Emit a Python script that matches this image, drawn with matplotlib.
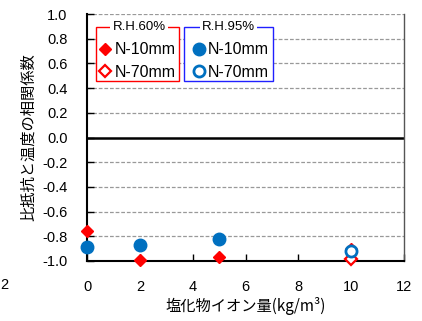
import matplotlib.pyplot as plt
from matplotlib.patches import Rectangle

plt.rcParams['font.family'] = ['Liberation Sans', 'Noto Sans CJK JP', 'DejaVu Sans']

# chloride content (kg/m3) and correlation coefficients
rh60_10_x = [0, 2, 5, 10]
rh60_10_y = [-0.76, -0.99, -0.97, -0.90]
rh60_70_x = [10]
rh60_70_y = [-0.98]
rh95_10_x = [0, 2, 5]
rh95_10_y = [-0.89, -0.87, -0.82]
rh95_70_x = [10]
rh95_70_y = [-0.92]

xticks = [0, 2, 4, 6, 8, 10, 12]
yticks = [-1.0, -0.8, -0.6, -0.4, -0.2, 0.0, 0.2, 0.4, 0.6, 0.8, 1.0]

red = '#FF0000'
blue = '#0070C0'
cjk = ['Noto Sans CJK JP', 'DejaVu Sans']

fig = plt.figure(figsize=(4.22, 3.21), dpi=100)
ax = fig.add_axes([87 / 422, 1 - 261 / 321, 317 / 422, 247 / 321])

for y in yticks:
    if y == 0.0:
        ax.axhline(0, color='black', lw=1.8, zorder=1)
    else:
        ax.axhline(y, color='#999999', lw=0.9, ls=(0, (3, 1.5)), zorder=1)

p1, = ax.plot(rh60_10_x, rh60_10_y, 'D', color=red, ms=6.5, ls='none', zorder=5, clip_on=False)
p2, = ax.plot(rh60_70_x, rh60_70_y, 'D', mfc='white', mec=red, mew=1.6, ms=6, ls='none', zorder=5, clip_on=False)
p3, = ax.plot(rh95_10_x, rh95_10_y, 'o', color=blue, ms=9, ls='none', zorder=6, clip_on=False)
p4, = ax.plot(rh95_70_x, rh95_70_y, 'o', mfc='white', mec=blue, mew=2, ms=8, ls='none', zorder=6, clip_on=False)

ax.set_xlim(0, 12)
ax.set_ylim(-1.0, 1.0)
ax.set_xticks(xticks)
ax.set_yticks(yticks)
ax.set_yticklabels([f'{v:.1f}' for v in yticks])
ax.tick_params(axis='x', direction='in', length=5, width=1, pad=14, labelsize=10.5)
ax.tick_params(axis='y', direction='in', length=5, width=1, pad=14, labelsize=10.5)

ax.spines['top'].set_visible(False)
ax.spines['left'].set_linewidth(1.5)
ax.spines['bottom'].set_linewidth(1.5)
ax.spines['right'].set_color('#555555')
ax.spines['right'].set_linewidth(1)

ax.set_xlabel('塩化物イオン量(kg/m³)', fontsize=11, family=cjk, labelpad=2)
ax.set_ylabel('比抵抗と温度の相関係数', fontsize=11, family=cjk, labelpad=4)

# legend frames with titles on the top edge
for x0, x1, col, title, tx in [(0.0284, 0.290, red, 'R.H.60%', 0.164),
                                (0.306, 0.587, '#2020FF', 'R.H.95%', 0.447)]:
    ax.add_patch(Rectangle((x0, 0.729), x1 - x0, 0.947 - 0.729, transform=ax.transAxes,
                           fill=True, facecolor='white', edgecolor=col, lw=1, zorder=7))
    ax.text(tx, 0.947, title, transform=ax.transAxes, ha='center', va='center',
            fontsize=9.5, bbox=dict(facecolor='white', edgecolor='none', pad=1.5), zorder=9)

leg1 = ax.legend([p1, p2], ['N-10mm', 'N-70mm'], loc='upper left',
                 bbox_to_anchor=(0.041, 0.885), borderaxespad=0, borderpad=0,
                 frameon=False, fontsize=11.5, handlelength=0.6,
                 handletextpad=0.3, labelspacing=0.45)
leg1.set_zorder(8)
ax.add_artist(leg1)
leg2 = ax.legend([p3, p4], ['N-10mm', 'N-70mm'], loc='upper left',
                 bbox_to_anchor=(0.339, 0.885), borderaxespad=0, borderpad=0,
                 frameon=False, fontsize=11.5, handlelength=0.6,
                 handletextpad=0.25, labelspacing=0.45)
leg2.set_zorder(8)

fig.text(4 / 422, 1 - 285 / 321, '2', ha='center', va='center', fontsize=10.5)

fig.savefig('out.png', dpi=100)
